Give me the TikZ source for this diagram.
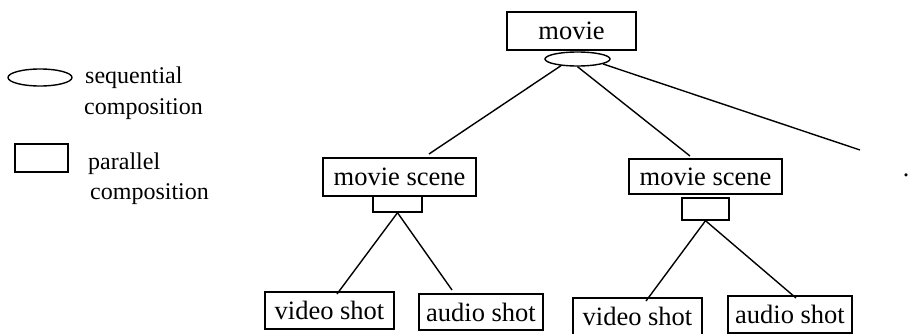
\documentclass[tikz,border=0pt]{standalone}
\usepackage{fontspec}
\setmainfont{Liberation Serif}
\usetikzlibrary{shapes.geometric}
\tikzset{
  x=1pt, y=-1pt,
  ln/.style={line width=1.4pt},
  boxnode/.style={draw, line width=1.4pt, rectangle, inner sep=0pt,
    font=\fontsize{26.5}{30}\selectfont},
  seqnode/.style={draw, line width=1.4pt, ellipse, inner sep=0pt},
  parnode/.style={draw, line width=1.4pt, rectangle, inner sep=0pt},
  legtext/.style={anchor=base west, inner sep=0pt, font=\fontsize{24}{28}\selectfont},
}
\begin{document}
\begin{tikzpicture}
\useasboundingbox (0,0) rectangle (910,333);
\clip (0,0) rectangle (910,333);

% legend
\node[seqnode, minimum width=64pt, minimum height=17pt] (legseq) at (40,77.5) {};
\node[legtext] (legseqt1) at (85,83) {sequential};
\node[legtext] (legseqt2) at (84,114) {composition};
\node[parnode, minimum width=53pt, minimum height=28pt] (legpar) at (41.5,158) {};
\node[legtext] (legpart1) at (88,169) {parallel};
\node[legtext] (legpart2) at (90,199) {composition};

% tree nodes
\node[boxnode, minimum width=129pt, minimum height=38pt] (movie) at (571.5,31) {movie};
\node[seqnode, minimum width=65pt, minimum height=14pt] (seq) at (577.5,59) {};

\node[boxnode, minimum width=153pt, minimum height=38pt] (scene1) at (399.5,177) {movie scene};
\node[parnode, minimum width=49pt, minimum height=16pt] (par1) at (397.5,204) {};

\node[boxnode, minimum width=153pt, minimum height=35pt] (scene2) at (705.5,176.5) {movie scene};
\node[parnode, minimum width=47pt, minimum height=22pt] (par2) at (705.5,209) {};

\node[boxnode, minimum width=129pt, minimum height=37pt] (video1) at (329.5,310.5) {video shot};
\node[boxnode, minimum width=124pt, minimum height=36pt] (audio1) at (481,312) {audio shot};
\node[boxnode, minimum width=129pt, minimum height=37pt] (video2) at (637.5,316.5) {video shot};
\node[boxnode, minimum width=124pt, minimum height=37pt] (audio2) at (790,314.5) {audio shot};

\node[inner sep=0pt, anchor=base, font=\fontsize{26}{30}\selectfont] (dot) at (906,176) {.};

% connector ends
\coordinate (e1) at (429,154);
\coordinate (e2) at (690,156);
\coordinate (e3) at (860,150);
\coordinate (e4) at (337,294);
\coordinate (e5) at (452,290);
\coordinate (e6) at (646,301);
\coordinate (e7) at (796,298);

\draw[ln] (seq.202) -- (e1);
\draw[ln] (seq.south) -- (e2);
\draw[ln] (seq.349) -- (e3);
\draw[ln] (par1.south) -- (e4);
\draw[ln] (par1.south) -- (e5);
\draw[ln] (par2.south) -- (e6);
\draw[ln] (par2.south) -- (e7);
\end{tikzpicture}
\end{document}
